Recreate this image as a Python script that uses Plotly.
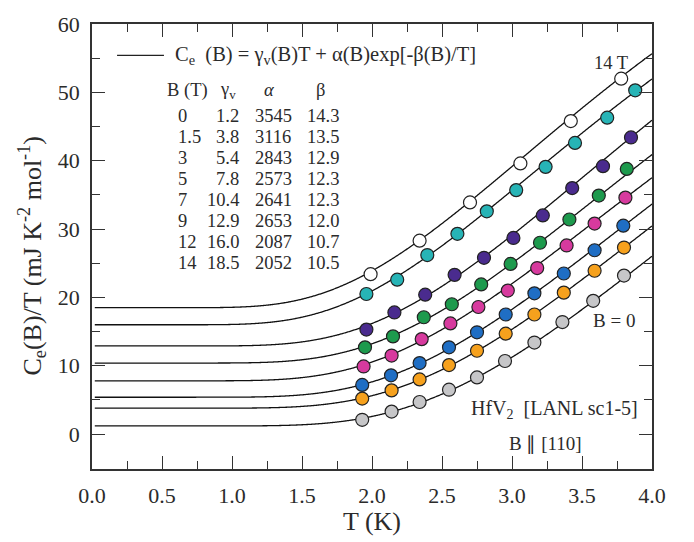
import numpy as np
import plotly.graph_objects as go

# ---- data ----
B_fields = ["0", "1.5", "3", "5", "7", "9", "12", "14"]
gamma_v = [1.2, 3.8, 5.4, 7.8, 10.4, 12.9, 16.0, 18.5]
alpha_p = [3545, 3116, 2843, 2573, 2641, 2653, 2087, 2052]
beta_p = [14.3, 13.5, 12.9, 12.3, 12.3, 12.0, 10.7, 10.5]

T_0 = [1.93, 2.14, 2.34, 2.55, 2.75, 2.95, 3.16, 3.36, 3.58, 3.80]
C_0 = [2.1, 3.3, 4.7, 6.5, 8.3, 10.7, 13.4, 16.4, 19.5, 23.2]
T_15 = [1.93, 2.14, 2.34, 2.55, 2.75, 2.955, 3.16, 3.37, 3.59, 3.80]
C_15 = [5.2, 6.4, 8.0, 10.1, 12.2, 14.7, 17.5, 20.7, 23.9, 27.3]
T_3 = [1.93, 2.136, 2.34, 2.55, 2.75, 2.955, 3.16, 3.37, 3.59, 3.795]
C_3 = [7.2, 8.6, 10.4, 12.7, 14.9, 17.5, 20.6, 23.5, 26.9, 30.5]
T_5 = [1.94, 2.14, 2.355, 2.56, 2.76, 2.97, 3.18, 3.39, 3.59, 3.81]
C_5 = [9.9, 11.5, 13.9, 16.2, 18.6, 21.0, 24.3, 27.6, 30.8, 34.6]
T_7 = [1.95, 2.15, 2.37, 2.57, 2.78, 2.99, 3.20, 3.41, 3.62, 3.82]
C_7 = [12.7, 14.3, 17.1, 19.0, 21.9, 24.9, 28.0, 31.4, 34.9, 38.8]
T_9 = [1.96, 2.16, 2.38, 2.59, 2.80, 3.01, 3.22, 3.43, 3.65, 3.85]
C_9 = [15.3, 17.8, 20.4, 23.3, 25.8, 28.7, 32.0, 36.0, 39.2, 43.4]
T_12 = [1.96, 2.18, 2.395, 2.61, 2.82, 3.03, 3.24, 3.45, 3.68, 3.88]
C_12 = [20.5, 22.6, 26.2, 29.3, 32.6, 35.7, 39.1, 42.6, 46.3, 50.3]
T_14 = [1.99, 2.34, 2.70, 3.06, 3.42, 3.78]
C_14 = [23.4, 28.3, 33.9, 39.6, 45.8, 52.0]

T_series = [T_0, T_15, T_3, T_5, T_7, T_9, T_12, T_14]
C_series = [C_0, C_15, C_3, C_5, C_7, C_9, C_12, C_14]
marker_colors = ["#c6c6c8", "#f6a11d", "#1f6ec4", "#d73a9e", "#1d9a4d",
                 "#4a2b8e", "#27b4b6", "#ffffff"]

x_ticks = [0.0, 0.5, 1.0, 1.5, 2.0, 2.5, 3.0, 3.5, 4.0]
y_ticks = [0, 10, 20, 30, 40, 50, 60]

FONT = "Liberation Serif"
TXT = "#2b2b2b"

fig = go.Figure()

# fit curves drawn from the displayed parameters
T_fit = np.linspace(0.02, 4.0, 800)
for g, a, b in zip(gamma_v, alpha_p, beta_p):
    fig.add_trace(go.Scatter(x=T_fit, y=g + a / T_fit * np.exp(-b / T_fit),
                             mode="lines",
                             line=dict(color="#111111", width=1.3, simplify=False),
                             hoverinfo="skip", showlegend=False))

for Ts, Cs, col in zip(T_series, C_series, marker_colors):
    fig.add_trace(go.Scatter(x=Ts, y=Cs, mode="markers",
                             marker=dict(size=13, color=col,
                                         line=dict(color="#222222", width=1.2)),
                             showlegend=False))

axis_common = dict(showline=True, linecolor="#333333", linewidth=1.6,
                   mirror="ticks", ticks="inside", ticklen=13, tickwidth=1.4,
                   tickcolor="#333333", showgrid=False, zeroline=False,
                   tickfont=dict(family=FONT, size=22, color=TXT))

fig.update_xaxes(range=[0, 4], tickvals=x_ticks,
                 ticktext=[f"{v:.1f}" for v in x_ticks],
                 minor=dict(dtick=0.25, tick0=0, ticks="inside", ticklen=8,
                            tickwidth=1.4, tickcolor="#333333"),
                 ticklabelstandoff=6, **axis_common)
fig.update_yaxes(range=[-5.1, 60], tickvals=y_ticks,
                 minor=dict(dtick=5, tick0=0, ticks="inside", ticklen=8,
                            tickwidth=1.4, tickcolor="#333333"),
                 ticklabelstandoff=6, **axis_common)

ann = []
# axis titles
ann.append(dict(text="T (K)", xref="paper", yref="paper", x=0.5, y=-0.118,
                xanchor="center", yanchor="middle", showarrow=False,
                font=dict(family=FONT, size=26, color=TXT)))
ann.append(dict(text="C<sub>e</sub>(B)/T (mJ K<sup>-2</sup> mol<sup>-1</sup>)",
                xref="paper", yref="y", x=-0.107, y=26.0, textangle=-90,
                xanchor="center", yanchor="middle", showarrow=False,
                font=dict(family=FONT, size=26, color=TXT)))
# formula
ann.append(dict(text="C<sub>e</sub>  (B) = γ<sub>v</sub>(B)T + α(B)exp[-β(B)/T]",
                x=0.58, y=55.4, xanchor="left", yanchor="middle", showarrow=False,
                font=dict(family=FONT, size=20.5, color=TXT)))
# table header
hdr = ["B (T)", "γ<sub>v</sub>", "<i>α</i>", "β"]
hdr_x = [0.68, 0.97, 1.27, 1.635]
for h, hx in zip(hdr, hdr_x):
    ann.append(dict(text=h, x=hx, y=50.3, xanchor="center", yanchor="middle",
                    showarrow=False, font=dict(family=FONT, size=18.5, color=TXT)))
for i, (bf, g, a, b) in enumerate(zip(B_fields, gamma_v, alpha_p, beta_p)):
    yy = (433 - (107 + 21.6 * i)) / 7.0
    ann.append(dict(text=bf, x=0.60, y=yy, xanchor="left", yanchor="middle",
                    showarrow=False, font=dict(family=FONT, size=18.5, color=TXT)))
    ann.append(dict(text=f"{g:.1f}", x=1.064, y=yy, xanchor="right", yanchor="middle",
                    showarrow=False, font=dict(family=FONT, size=18.5, color=TXT)))
    ann.append(dict(text=f"{a}", x=1.293, y=yy, xanchor="center", yanchor="middle",
                    showarrow=False, font=dict(family=FONT, size=18.5, color=TXT)))
    ann.append(dict(text=f"{b:.1f}", x=1.65, y=yy, xanchor="center", yanchor="middle",
                    showarrow=False, font=dict(family=FONT, size=18.5, color=TXT)))
# curve labels
ann.append(dict(text="14 T", x=3.71, y=54.3, xanchor="center", yanchor="middle",
                showarrow=False, font=dict(family=FONT, size=18.5, color=TXT)))
ann.append(dict(text="B = 0", x=3.73, y=16.6, xanchor="center", yanchor="middle",
                showarrow=False, font=dict(family=FONT, size=19, color=TXT)))
ann.append(dict(text="HfV<sub>2</sub>  [LANL sc1-5]", x=3.914, y=3.6,
                xanchor="right", yanchor="middle", showarrow=False,
                font=dict(family=FONT, size=20, color=TXT)))
ann.append(dict(text="B ∥ [110]", x=3.236, y=-1.4, xanchor="center",
                yanchor="middle", showarrow=False,
                font=dict(family=FONT, size=19, color=TXT)))

fig.update_layout(
    width=694, height=542,
    margin=dict(l=92, r=42, t=14, b=73),
    paper_bgcolor="white", plot_bgcolor="white",
    annotations=ann,
    shapes=[dict(type="line", xref="x", yref="y", x0=0.179, x1=0.514,
                 y0=55.4, y1=55.4, line=dict(color="#222222", width=1.3))],
)

fig.write_html("out.html")
